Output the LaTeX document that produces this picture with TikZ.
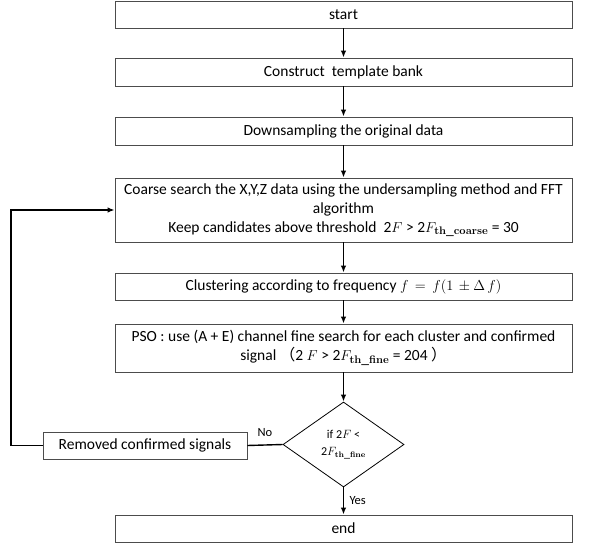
\documentclass[tikz,border=0pt]{standalone}
\usepackage[no-math]{fontspec}
\setmainfont{Carlito}
\newfontfamily\cjk{Noto Sans CJK SC}
\usetikzlibrary{shapes.geometric,arrows.meta}
\begin{document}
\begin{tikzpicture}[x=1pt,y=-1pt,
  box/.style={draw=black!70,line width=0.8pt,minimum width=457pt,inner sep=0pt,align=center,font=\fontsize{15.5}{19}\selectfont},
  flow/.style={line width=1.4pt,-{Latex[length=7pt,width=5.5pt]}},
  plain/.style={line width=1.4pt},
  lbl/.style={font=\fontsize{12.5}{14}\selectfont}]
\useasboundingbox (0,0) rectangle (598,544);
\node[box,minimum height=27pt] (start) at (343.5,14.5) {start};
\node[box,minimum height=28pt] (tb) at (343.5,72) {Construct\ \ template bank};
\node[box,minimum height=28pt] (ds) at (343.5,131) {Downsampling the original data};
\node[box,minimum height=64pt] (coarse) at (343.5,210) {Coarse search the X,Y,Z data using the undersampling method and FFT\\algorithm\\Keep candidates above threshold\ \ 2$F$ > 2$F_{\mathbf{th\_coarse}}$ = 30};
\node[box,minimum height=27pt] (clus) at (343.5,286.5) {Clustering according to frequency $f\,=\,f(1\,\pm\Delta\,f)$};
\node[box,minimum height=48pt] (pso) at (343.5,348) {PSO : use (A + E) channel fine search for each cluster and confirmed\\signal\ {\cjk （}2 $F$ > 2$F_{\mathbf{th\_fine}}$ = 204 {\cjk ）}};
\node[diamond,draw=black,line width=0.8pt,minimum width=121pt,minimum height=85pt,inner sep=0pt,align=center,font=\fontsize{12}{17}\selectfont] (dec) at (343.5,444.5) {if 2$F$ <\\2$F_{\mathbf{th\_fine}}$};
\node[box,minimum width=204pt,minimum height=27pt] (rem) at (145,445.5) {Removed confirmed signals};
\node[box,minimum height=27pt] (end) at (343.5,528.5) {end};
\coordinate (lp) at (11,445.5);
\draw[flow] (start) -- (tb);
\draw[flow] (tb) -- (ds);
\draw[flow] (ds) -- (coarse);
\draw[flow] (coarse) -- (clus);
\draw[flow] (clus) -- (pso);
\draw[flow] (pso) -- (dec);
\draw[flow] (dec) -- node[right,lbl,xshift=2pt]{Yes} (end);
\draw[plain] (dec.west) -- node[above,lbl,yshift=4pt]{No} (rem.east);
\draw[flow] (rem.west) -- (lp) |- (coarse.west);
\end{tikzpicture}
\end{document}
